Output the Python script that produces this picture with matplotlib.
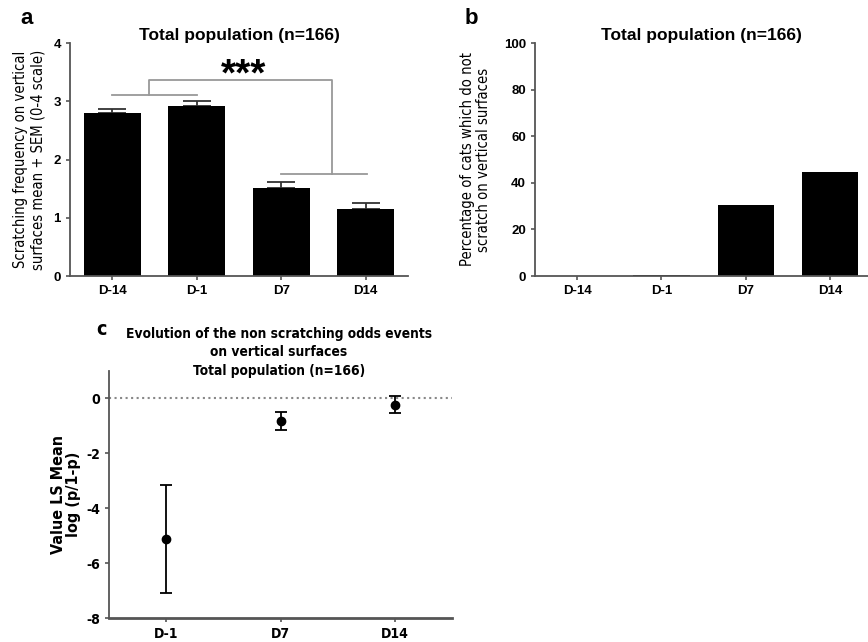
import matplotlib.pyplot as plt
from matplotlib import font_manager
import numpy as np

# Panel a: scratching frequency (mean + SEM)
days_ab = ['D-14', 'D-1', 'D7', 'D14']
freq_mean = [2.80, 2.92, 1.51, 1.15]
freq_sem = [0.07, 0.08, 0.10, 0.10]

# Panel b: percentage of cats which do not scratch
pct_no_scratch = [0.0, 0.6, 30.5, 44.6]

# Panel c: LS mean log(p/1-p) with error
days_c = ['D-1', 'D7', 'D14']
ls_mean = [-5.12, -0.82, -0.23]
ls_err = [1.98, 0.34, 0.31]

AX_COL = '#555555'
FONT = ['Liberation Sans', 'DejaVu Sans']
plt.rcParams['font.family'] = FONT
plt.rcParams['axes.unicode_minus'] = False

# pick a condensed face if one is installed
installed = {f.name for f in font_manager.fontManager.ttflist}
condensed_faces = [f for f in font_manager.fontManager.ttflist
                   if f.name == 'DejaVu Sans' and 'ondensed' in f.fname]
if 'Liberation Sans Narrow' in installed:
    NARROW = dict(family=['Liberation Sans Narrow', 'DejaVu Sans'])
    NSCALE = 1.0
elif condensed_faces:
    NARROW = dict(family=['DejaVu Sans'], stretch='condensed')
    NSCALE = 0.92
else:
    NARROW = dict(family=FONT)
    NSCALE = 0.88

fig = plt.figure(figsize=(8.68, 6.42), dpi=100)


def style_axes(ax, size):
    for s in ['top', 'right']:
        ax.spines[s].set_visible(False)
    for s in ['left', 'bottom']:
        ax.spines[s].set_color(AX_COL)
        ax.spines[s].set_linewidth(1.3)
    ax.tick_params(colors=AX_COL, width=1.2, length=3, labelcolor='black',
                   labelsize=size)
    for t in ax.get_xticklabels() + ax.get_yticklabels():
        t.set_fontweight('bold')


# ---- a ----
ax_a = fig.add_axes([70 / 868, 1 - 276 / 642, 338 / 868, 233 / 642])
x = np.arange(len(days_ab))
ax_a.bar(x, freq_mean, width=0.67, color='black', zorder=2)
ax_a.errorbar(x, freq_mean, yerr=[np.zeros(4), freq_sem], fmt='none',
              ecolor='#333333', elinewidth=1.3, capsize=10, capthick=1.3, zorder=1)
ax_a.set_xlim(-0.5, 3.5)
ax_a.set_ylim(0, 4)
ax_a.set_yticks([0, 1, 2, 3, 4])
ax_a.set_xticks(x)
ax_a.set_xticklabels(days_ab)
style_axes(ax_a, 9.5)
ax_a.set_title('Total population (n=166)', fontsize=12.5, fontweight='bold', pad=1)
ax_a.set_ylabel('Scratching frequency on vertical\nsurfaces mean + SEM (0-4 scale)',
                fontsize=11.5 * NSCALE, labelpad=6, linespacing=1.15, **NARROW)
# significance bracket
br = '#999999'
ax_a.plot([0.0, 1.0], [3.10, 3.10], color=br, lw=1.3)
ax_a.plot([0.43, 0.43, 2.6, 2.6], [3.10, 3.37, 3.37, 1.75], color=br, lw=1.3)
ax_a.plot([2.0, 3.02], [1.75, 1.75], color=br, lw=1.3)
ax_a.text(1.55, 3.13, '***', ha='center', va='bottom', fontsize=28, fontweight='bold')
fig.text(20 / 868, 1 - 18 / 642, 'a', fontsize=16, fontweight='bold', va='center')

# ---- b ----
ax_b = fig.add_axes([535 / 868, 1 - 276 / 642, 333 / 868, 233 / 642])
ax_b.bar(x, pct_no_scratch, width=0.67, color='black')
ax_b.set_xlim(-0.5, 3.45)
ax_b.set_ylim(0, 100)
ax_b.set_yticks([0, 20, 40, 60, 80, 100])
ax_b.set_xticks(x)
ax_b.set_xticklabels(days_ab)
style_axes(ax_b, 9.5)
ax_b.set_title('Total population (n=166)', fontsize=12.5, fontweight='bold', pad=1)
ax_b.set_ylabel('Percentage of cats which do not\nscratch on vertical surfaces',
                fontsize=11.5 * NSCALE, labelpad=9, linespacing=1.15, **NARROW)
fig.text(465 / 868, 1 - 18 / 642, 'b', fontsize=16, fontweight='bold', va='center')

# ---- c ----
ax_c = fig.add_axes([109 / 868, 1 - 618 / 642, 343 / 868, 247 / 642])
xc = np.arange(len(days_c))
ax_c.axhline(0, color='#888888', lw=1.5, ls=':', zorder=1)
ax_c.errorbar(xc, ls_mean, yerr=ls_err, fmt='o', color='black', ms=6,
              elinewidth=1.3, capsize=4, capthick=1.3, zorder=3)
ax_c.set_xlim(-0.5, 2.5)
ax_c.set_ylim(-8, 1)
ax_c.set_yticks([-8, -6, -4, -2, 0])
ax_c.set_xticks(xc)
ax_c.set_xticklabels(days_c)
style_axes(ax_c, 11 * NSCALE)
for t in ax_c.get_xticklabels() + ax_c.get_yticklabels():
    t.set_fontfamily(NARROW['family'])
    if 'stretch' in NARROW:
        t.set_fontstretch(NARROW['stretch'])
ax_c.spines['bottom'].set_linewidth(2)
fig.text(279 / 868, 1 - 327 / 642,
         'Evolution of the non scratching odds events\non vertical surfaces\nTotal population (n=166)',
         ha='center', va='top', fontsize=10.8 * NSCALE, fontweight='bold',
         linespacing=1.4, **NARROW)
ax_c.set_ylabel('Value LS Mean\nlog (p/1-p)', fontsize=12.5 * NSCALE, fontweight='bold',
                labelpad=4, linespacing=1.0, **NARROW)
fig.text(96 / 868, 1 - 330 / 642, 'c', fontsize=14, fontweight='bold', va='center', **NARROW)

fig.savefig('out.png', dpi=100)
